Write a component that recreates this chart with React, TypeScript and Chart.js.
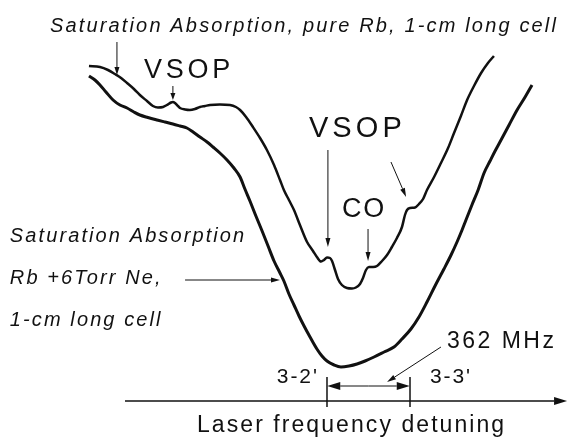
import { useEffect, useRef } from "react";
import { Chart, registerables } from "chart.js";

Chart.register(...registerables);

// Laser detuning in MHz (0 = F=3 -> F'=2 line), signal in arbitrary units
const pureRbDetuning = [
  -1038, -990, -955, -925, -898, -872, -842, -816, -785, -759, -737, -715, -698, -680, -672, -663,
  -650, -641, -619, -598, -576, -554, -532, -510, -467, -423, -397, -379, -353, -323, -292, -262,
  -231, -205, -188, -166, -144, -118, -87, -61, -44, -26, -13, 0, 13, 22, 35, 48, 65, 87, 109, 126,
  144, 157, 170, 183, 201, 218, 240, 262, 283, 305, 327, 340, 349, 362, 384, 401, 419, 436, 467,
  497, 528, 554, 584, 611, 641, 672, 702, 728,
];
const pureRbSignal = [
  335, 334, 331, 327, 323, 318, 312, 306, 300, 295, 293.5, 294, 296, 298.5, 299, 298,
  295, 293, 291.5, 291, 292, 294, 295, 296, 296.5, 296, 294, 291, 284, 274, 263, 251,
  236, 221, 211, 201, 191, 176, 159, 150, 144, 139.5, 141, 143.5, 143, 140, 131, 122, 116, 113, 112.5, 113.5,
  117, 123, 131, 134, 134, 135, 140, 146, 154, 163, 174, 186, 191, 193, 193.5, 197, 202, 211, 224,
  238, 253, 268, 285, 301, 315, 328, 338, 345,
];

const neDetuning = [
  -1038, -1012, -990, -964, -933, -903, -872, -842, -816, -781, -741, -707, -672, -641, -611, -584,
  -554, -523, -497, -467, -436, -406, -379, -358, -336, -310, -283, -257, -231, -205, -188, -166,
  -144, -122, -100, -74, -44, -22, 0, 31, 61, 96, 131, 166, 205, 249, 292, 327, 366, 401, 436,
  471, 510, 541, 567, 589, 606, 632, 659, 685, 711, 733, 759, 794, 829, 864, 894,
];
const neSignal = [
  325, 321, 316, 309, 301, 296, 293, 289, 286, 283.5, 281, 279, 277, 275, 273, 269,
  264, 259, 254, 248, 241, 233, 224, 212, 200, 185, 170, 155, 140, 128, 120, 107,
  96, 85, 75, 64, 52, 45, 40, 36, 34, 35, 37, 40, 44, 49, 54, 62, 72, 84, 99,
  115, 132, 146, 159, 171, 181, 196, 211, 228, 240, 250, 261, 276, 291, 304, 316,
];

const hyperfineLines = [0, 362];
const hyperfineLabels = ["3-2'", "3-3'"];
const splittingLabel = "362 MHz";
const pureTitle = "Saturation Absorption, pure Rb, 1-cm long cell";
const neLabelLines = ["Saturation Absorption", "Rb +6Torr Ne,", "1-cm long cell"];
const xAxisTitle = "Laser frequency detuning";

const INK = "#111";
const FONT = '"Liberation Sans", Arial, Helvetica, sans-serif';

const annotate = {
  id: "annotate",
  afterDatasetsDraw(chart: any) {
    const { ctx } = chart;
    const xs = chart.scales.x;
    const ys = chart.scales.y;
    const X = (v: number) => xs.getPixelForValue(v);
    const Y = (v: number) => ys.getPixelForValue(v);
    ctx.save();

    const text = (
      str: string,
      x: number,
      y: number,
      size: number,
      italic: boolean,
      spacing: number,
      align: "left" | "right" = "left"
    ) => {
      ctx.font = `${italic ? "italic " : ""}${size}px ${FONT}`;
      (ctx as any).letterSpacing = spacing + "px";
      ctx.fillStyle = INK;
      ctx.textBaseline = "alphabetic";
      ctx.textAlign = "left";
      let px = X(x);
      if (align === "right") {
        px -= ctx.measureText(str).width - spacing;
      }
      ctx.fillText(str, px, Y(y));
    };

    const line = (x1: number, y1: number, x2: number, y2: number, lw = 1) => {
      ctx.strokeStyle = INK;
      ctx.lineWidth = lw;
      ctx.beginPath();
      ctx.moveTo(X(x1), Y(y1));
      ctx.lineTo(X(x2), Y(y2));
      ctx.stroke();
    };

    const arrow = (
      x1: number,
      y1: number,
      x2: number,
      y2: number,
      head = 8,
      hw = 2.5,
      lw = 1
    ) => {
      const a = X(x1), b = Y(y1), c = X(x2), d = Y(y2);
      const ang = Math.atan2(d - b, c - a);
      const bx = c - head * Math.cos(ang);
      const by = d - head * Math.sin(ang);
      ctx.strokeStyle = INK;
      ctx.lineWidth = lw;
      ctx.beginPath();
      ctx.moveTo(a, b);
      ctx.lineTo(bx, by);
      ctx.stroke();
      ctx.beginPath();
      ctx.moveTo(c, d);
      ctx.lineTo(bx + hw * Math.sin(ang), by - hw * Math.cos(ang));
      ctx.lineTo(bx - hw * Math.sin(ang), by + hw * Math.cos(ang));
      ctx.closePath();
      ctx.fillStyle = INK;
      ctx.fill();
    };

    // Title for pure Rb trace
    text(pureTitle, -1208, 369, 20, true, 2.15);
    arrow(-916, 359, -916, 326, 8, 2.5);

    // VSOP on far wing
    text("VSOP", -798, 323, 27, false, 3.7);
    arrow(-672, 315, -672, 301, 7, 2.5);

    // VSOP near the lines
    text("VSOP", -79, 264, 29, false, 4.1);
    arrow(4, 251, 4, 154, 9, 2.5);
    arrow(279, 239, 345, 204, 9, 2.5);

    // CO
    text("CO", 65, 184, 27, false, 1.8);
    arrow(179, 172, 179, 140, 9, 2.5);

    // Ne cell label
    const neY = [159, 117, 75];
    neLabelLines.forEach((s, i) => text(s, -1383, neY[i], 20, true, 2.1));
    arrow(-619, 121, -205, 121, 9, 2.5);

    // Frequency axis
    arrow(-881, 0, xs.max - 4, 0, 13, 4, 1.5);
    hyperfineLines.forEach((f) => line(f, 24, f, -6, 1.5));
    const mid = (hyperfineLines[0] + hyperfineLines[1]) / 2;
    arrow(mid, 15, hyperfineLines[0] + 1, 15, 13, 4);
    arrow(mid, 15, hyperfineLines[1] - 1, 15, 13, 4);
    text(hyperfineLabels[0], -44, 18, 21, false, 1.9, "right");
    text(hyperfineLabels[1], 449, 18, 21, false, 1.9);
    text(splittingLabel, 523, 53, 23, false, 2.5);
    arrow(497, 54, 262, 19, 9, 2.5);

    text(xAxisTitle, -567, -31, 23, false, 2.07);

    ctx.restore();
  },
};

export default function App() {
  const ref = useRef<HTMLCanvasElement | null>(null);

  useEffect(() => {
    if (!ref.current) return;
    const pure = pureRbDetuning.map((x, i) => ({ x, y: pureRbSignal[i] }));
    const ne = neDetuning.map((x, i) => ({ x, y: neSignal[i] }));
    const chart = new Chart(ref.current, {
      type: "scatter",
      data: {
        datasets: [
          {
            label: "pure Rb",
            data: pure,
            showLine: true,
            borderColor: INK,
            borderWidth: 2.5,
            pointRadius: 0,
            cubicInterpolationMode: "monotone",
          },
          {
            label: "Rb + 6 Torr Ne",
            data: ne,
            showLine: true,
            borderColor: INK,
            borderWidth: 3,
            pointRadius: 0,
            cubicInterpolationMode: "monotone",
          },
        ],
      },
      options: {
        animation: false,
        responsive: false,
        maintainAspectRatio: false,
        layout: { padding: 0 },
        plugins: {
          legend: { display: false },
          tooltip: { enabled: false },
          title: { display: false },
        },
        scales: {
          x: { type: "linear", min: -1426, max: 1051, display: false },
          y: { type: "linear", min: -38, max: 401, display: false },
        },
      },
      plugins: [annotate],
    });
    return () => chart.destroy();
  }, []);

  return (
    <div
      style={{
        position: "fixed",
        left: 0,
        top: 0,
        width: 568,
        height: 439,
        background: "#fff",
      }}
    >
      <canvas ref={ref} width={568} height={439} />
    </div>
  );
}
